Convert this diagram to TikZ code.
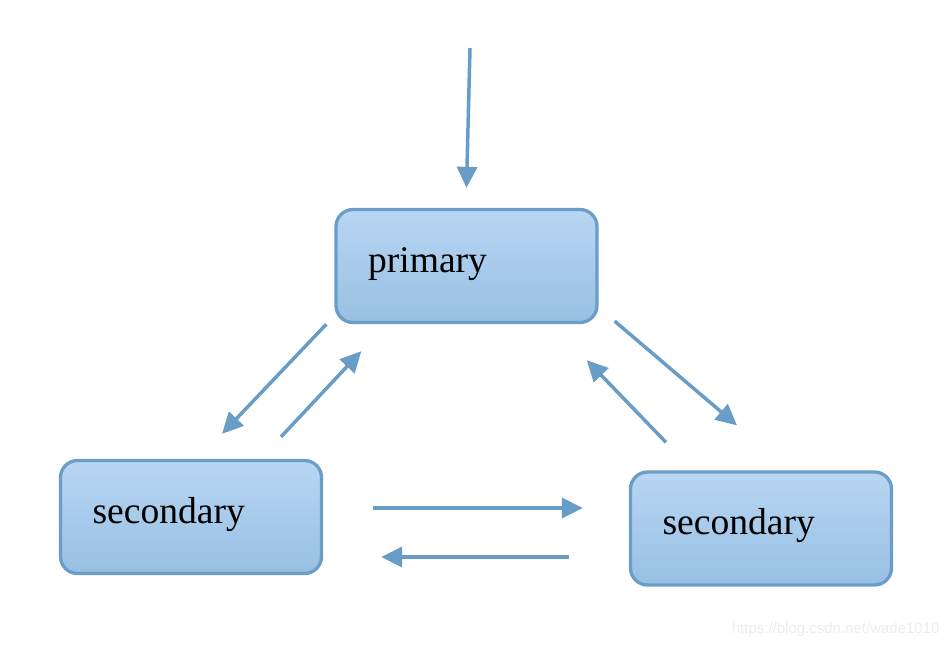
\documentclass[tikz,border=0pt]{standalone}
\usepackage{fontspec}
\setmainfont{Liberation Serif}
\newfontfamily\markfont{Liberation Sans}
\usepackage{tikz}
\usetikzlibrary{calc, positioning, arrows.meta}
\usepackage{xcolor}
\definecolor{nodeEdge}{RGB}{106, 158, 201}
\definecolor{nodeTop}{RGB}{184, 214, 243}
\definecolor{nodeBottom}{RGB}{152, 191, 227}
\definecolor{flowBlue}{RGB}{104, 157, 200}

\begin{document}
\begin{tikzpicture}[x=1pt, y=-1pt, >={Triangle[length=21pt, width=20pt]},
    server/.style={draw=nodeEdge, line width=3.3pt, rounded corners=17pt,
      top color=nodeTop, bottom color=nodeBottom, minimum height=113pt,
      text width=197pt, inner xsep=32pt, align=left,
      text height=26pt, text depth=14pt,
      font=\fontsize{37.6}{40}\selectfont},
    flow/.style={->, flowBlue, line width=3.5pt}]
  \useasboundingbox (0, 0) rectangle (952, 648);

  % Servers
  \node[server] (primary) at (466.5, 266) {primary};
  \node[server] (secA) at (191, 517) {secondary};
  \node[server] (secB) at (761, 528.5) {secondary};

  % Incoming writes
  \coordinate (entry) at (470, 48);
  \draw[flow] (entry) -- ([yshift=20pt]primary.north);

  % Primary <-> left secondary
  \draw[flow] ([xshift=-8pt]primary.south west) -- ([xshift=31pt, yshift=25pt]secA.north);
  \draw[flow] ([xshift=90pt, yshift=22pt]secA.north) -- ([xshift=27pt, yshift=-27pt]primary.south west);

  % Primary <-> right secondary
  \draw[flow] ([xshift=16pt, yshift=3pt]primary.south east) -- ([xshift=-24pt, yshift=45pt]secB.north);
  \draw[flow] ([xshift=-95pt, yshift=28pt]secB.north) -- ([xshift=-12pt, yshift=-36pt]primary.south east);

  % Between the secondaries
  \draw[flow] ([xshift=50pt, yshift=9pt]secA.east) -- ([xshift=-46pt, yshift=20.5pt]secB.west);
  \draw[flow] ([xshift=-60pt, yshift=-28.5pt]secB.west) -- ([xshift=58pt, yshift=-40pt]secA.east);

  % Watermark
  \node[anchor=east, text=black!7, font=\markfont\fontsize{15}{16}\selectfont] (mark) at (943, 630) {https://blog.csdn.net/wade1010};
\end{tikzpicture}
\end{document}
